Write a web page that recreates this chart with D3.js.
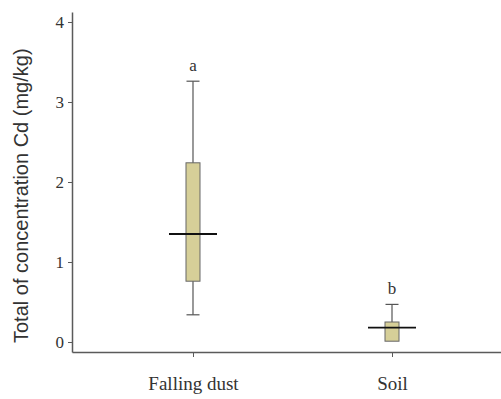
<!DOCTYPE html>
<html>
<head>
<meta charset="utf-8">
<script src="https://cdn.jsdelivr.net/npm/d3@7"></script>
<style>
  html, body { margin: 0; padding: 0; background: #fff; }
  svg { display: block; }
</style>
</head>
<body>
<svg id="chart" width="501" height="399"></svg>
<script>
// Data
const categories = ["Falling dust", "Soil"];
const whiskerLow  = [0.34, 0.02];
const q1          = [0.76, 0.01];
const median      = [1.35, 0.18];
const q3          = [2.24, 0.25];
const whiskerHigh = [3.26, 0.47];
const letters     = ["a", "b"];
const yTicks      = [0, 1, 2, 3, 4];

const svg = d3.select("#chart");
const axisColor = "#5a5a5a";

const y = d3.scaleLinear().domain([-0.125, 4.125]).range([352, 12]);
const x = d3.scalePoint().domain(categories).range([72, 513]).padding(0.608);

// Y axis
const yAxis = svg.append("g").attr("transform", "translate(72,0)")
  .call(d3.axisLeft(y).tickValues(yTicks).tickSize(4).tickSizeOuter(0).tickFormat(d3.format("d")));
yAxis.select(".domain").attr("stroke", axisColor).attr("stroke-width", 1.5);
yAxis.selectAll(".tick line").attr("stroke", axisColor).attr("stroke-width", 1);
yAxis.selectAll(".tick text")
  .attr("font-family", "'Liberation Serif', 'Times New Roman', serif")
  .attr("font-size", 17).attr("fill", "#333").attr("x", -8);

// X axis
const xAxis = svg.append("g").attr("transform", "translate(0,352)")
  .call(d3.axisBottom(x).tickSize(5).tickSizeOuter(0));
xAxis.select(".domain").attr("stroke", axisColor).attr("stroke-width", 1.5);
xAxis.selectAll(".tick line").attr("stroke", axisColor).attr("stroke-width", 1);
xAxis.selectAll(".tick text")
  .attr("font-family", "'Liberation Serif', 'Times New Roman', serif")
  .attr("font-size", 19).attr("fill", "#333").attr("dy", null).attr("y", 38);

// Y title
svg.append("text")
  .attr("transform", "translate(28,343) rotate(-90)")
  .attr("font-family", "'Liberation Sans', Arial, sans-serif")
  .attr("font-size", 20).attr("fill", "#333")
  .text("Total of concentration Cd (mg/kg)");

// Boxes
const data = categories.map((c, i) => ({
  c, lo: whiskerLow[i], q1: q1[i], med: median[i], q3: q3[i], hi: whiskerHigh[i], letter: letters[i]
}));
const boxW = 14, capW = 13, medW = 48;
const g = svg.append("g");
const grp = g.selectAll("g.box").data(data).join("g").attr("class", "box");

grp.append("line")
  .attr("x1", d => x(d.c)).attr("x2", d => x(d.c))
  .attr("y1", d => y(d.hi)).attr("y2", d => y(d.lo))
  .attr("stroke", "#555").attr("stroke-width", 1.2);
grp.append("line")
  .attr("x1", d => x(d.c) - capW / 2).attr("x2", d => x(d.c) + capW / 2)
  .attr("y1", d => y(d.hi)).attr("y2", d => y(d.hi))
  .attr("stroke", "#555").attr("stroke-width", 1.2);
grp.append("line")
  .attr("x1", d => x(d.c) - capW / 2).attr("x2", d => x(d.c) + capW / 2)
  .attr("y1", d => y(d.lo)).attr("y2", d => y(d.lo))
  .attr("stroke", "#555").attr("stroke-width", 1.2);
grp.append("rect")
  .attr("x", d => x(d.c) - boxW / 2).attr("width", boxW)
  .attr("y", d => y(d.q3)).attr("height", d => y(d.q1) - y(d.q3))
  .attr("fill", "#d6cf98").attr("stroke", "#666").attr("stroke-width", 1);
grp.append("line")
  .attr("x1", d => x(d.c) - medW / 2).attr("x2", d => x(d.c) + medW / 2)
  .attr("y1", d => y(d.med)).attr("y2", d => y(d.med))
  .attr("stroke", "#111").attr("stroke-width", 1.8);
grp.append("text")
  .attr("x", d => x(d.c)).attr("y", d => y(d.hi) - 10)
  .attr("text-anchor", "middle")
  .attr("font-family", "'Liberation Serif', 'Times New Roman', serif")
  .attr("font-size", 17).attr("fill", "#333")
  .text(d => d.letter);
</script>
</body>
</html>
